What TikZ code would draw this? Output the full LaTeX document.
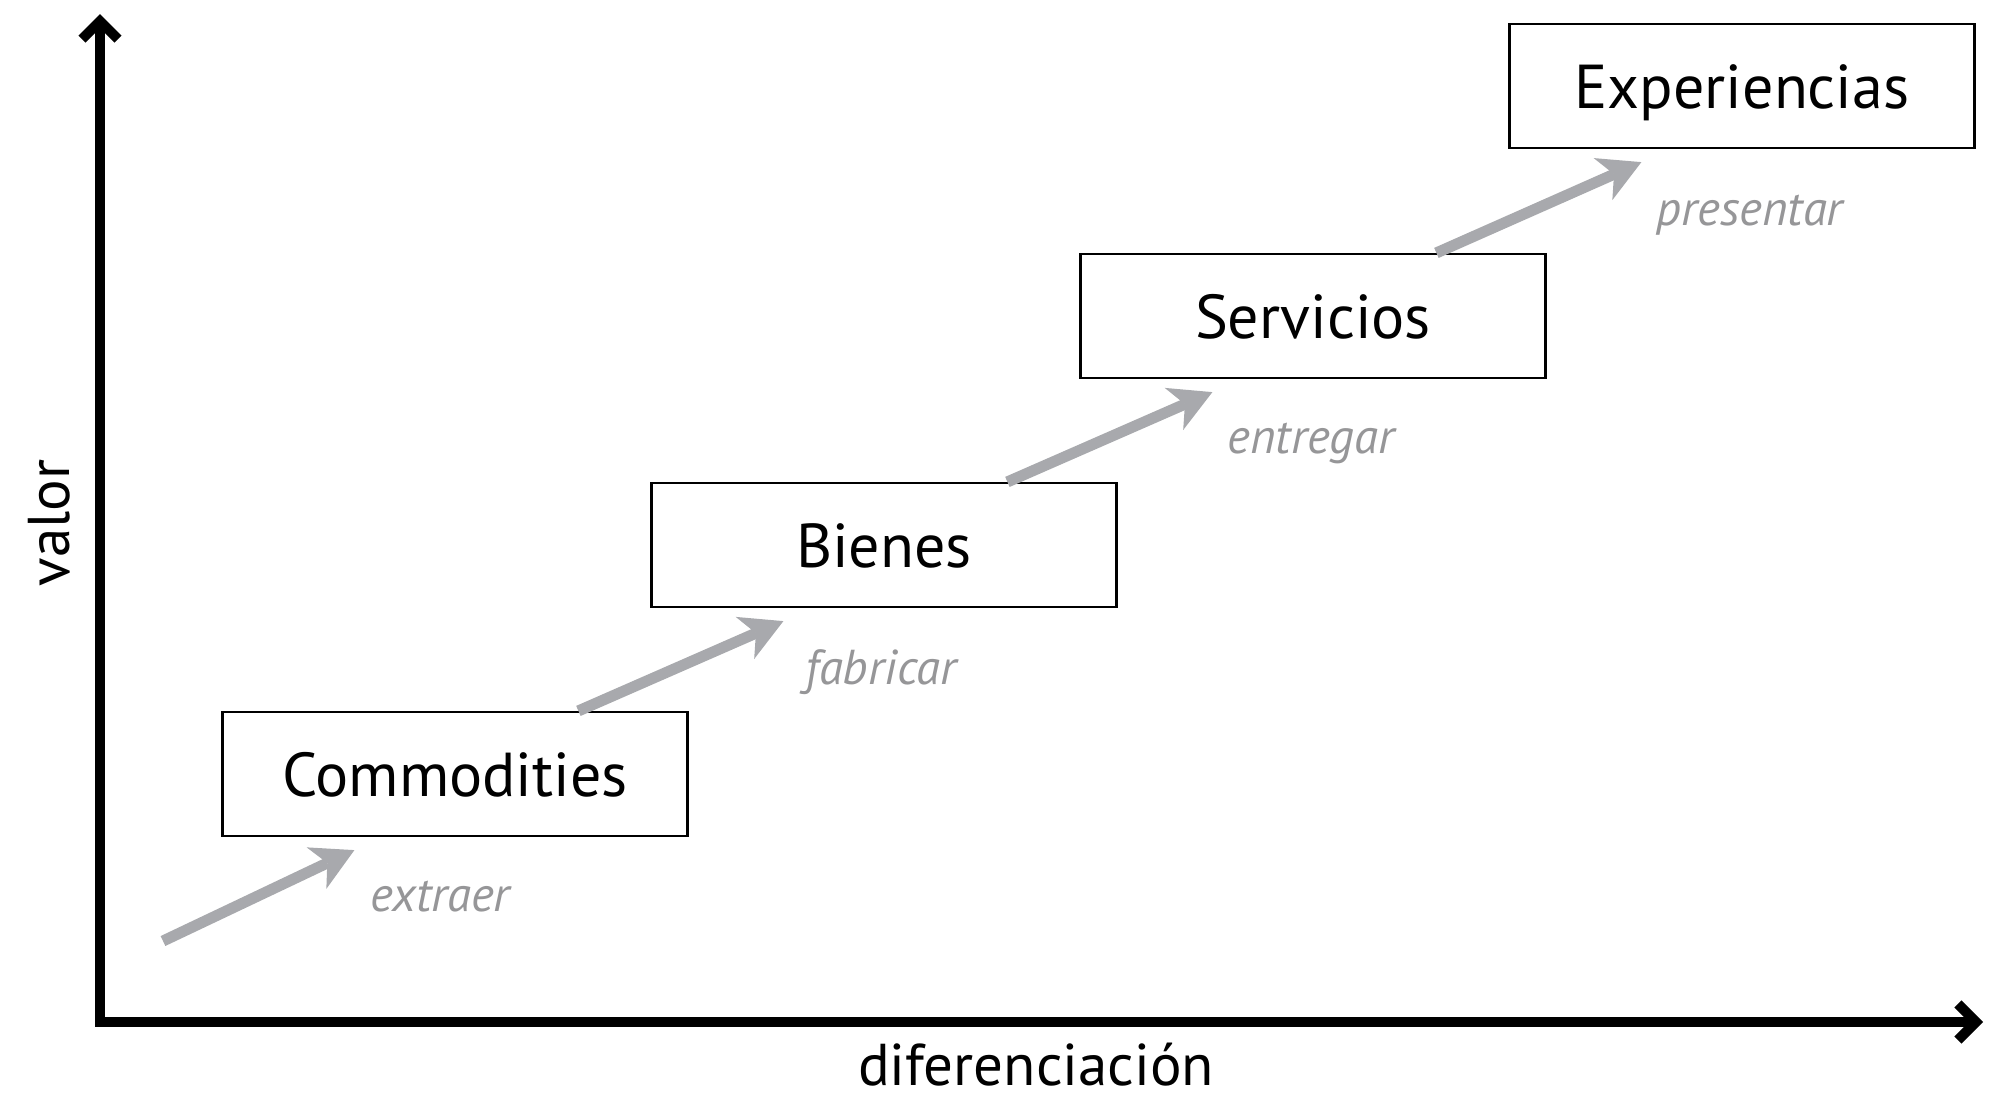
\documentclass[tikz,border=0pt]{standalone}
\usepackage{fontspec}
\setmainfont{PT Sans}
\usetikzlibrary{arrows.meta,calc}
\definecolor{arrowgrey}{RGB}{168,169,173}
\definecolor{labelgrey}{RGB}{150,150,152}
\begin{document}
\begin{tikzpicture}[x=0.5pt,y=-0.5pt,
  stage/.style={draw=black, line width=1.1pt, fill=white, minimum width=232.5pt, minimum height=62pt, inner sep=0pt, text height=22.5pt, text depth=0pt, font=\fontsize{31}{36}\selectfont},
  verb/.style={text=labelgrey, font=\fontsize{24.5}{29}\selectfont\itshape, anchor=base west, inner sep=0pt},
  flow/.style={draw=arrowgrey, line width=5.5pt, -{Stealth[length=21pt,width=23pt,inset=6pt,line width=0pt]}},
  axis/.style={line width=5pt, {Straight Barb[length=9pt,width=18pt]}-{Straight Barb[length=9pt,width=18pt]}},
  axlabel/.style={font=\fontsize{29.5}{34}\selectfont, inner sep=0pt}]
\useasboundingbox (0,0) rectangle (1990,1099);
% axes
\coordinate (O) at (100,1022);
\coordinate (ytop) at (100,14);
\coordinate (xend) at (1983,1022);
\draw[axis] (ytop) -- (O) -- (xend);
\node[axlabel, rotate=90] (valor) at (49,523) {valor};
\node[axlabel, anchor=base] (dif) at (1036,1085) {diferenciación};
% stages
\coordinate (start) at (163,941);
\coordinate (cC) at (455,774);
\coordinate (cB) at (884,545);
\coordinate (cS) at (1313,316);
\coordinate (cE) at (1742,86);
\node[stage] (comm) at (cC) {Commodities};
\node[stage] (bien) at (cB) {Bienes};
\node[stage] (serv) at (cS) {Servicios};
\node[stage] (expe) at (cE) {Experiencias};
\draw[flow] (start) -- ($(comm.south west)+(133,13)$);
\draw[flow] ($(comm.north west)+(357,0)$) -- ($(bien.south west)+(133,13)$);
\draw[flow] ($(bien.north west)+(357,0)$) -- ($(serv.south west)+(133,13)$);
\draw[flow] ($(serv.north west)+(357,0)$) -- ($(expe.south west)+(133,13)$);
\node[verb] (v1) at (370,911) {extraer};
\node[verb] (v2) at (805,684) {fabricar};
\node[verb] (v3) at (1227,453) {entregar};
\node[verb] (v4) at (1656,225) {presentar};
\end{tikzpicture}
\end{document}
